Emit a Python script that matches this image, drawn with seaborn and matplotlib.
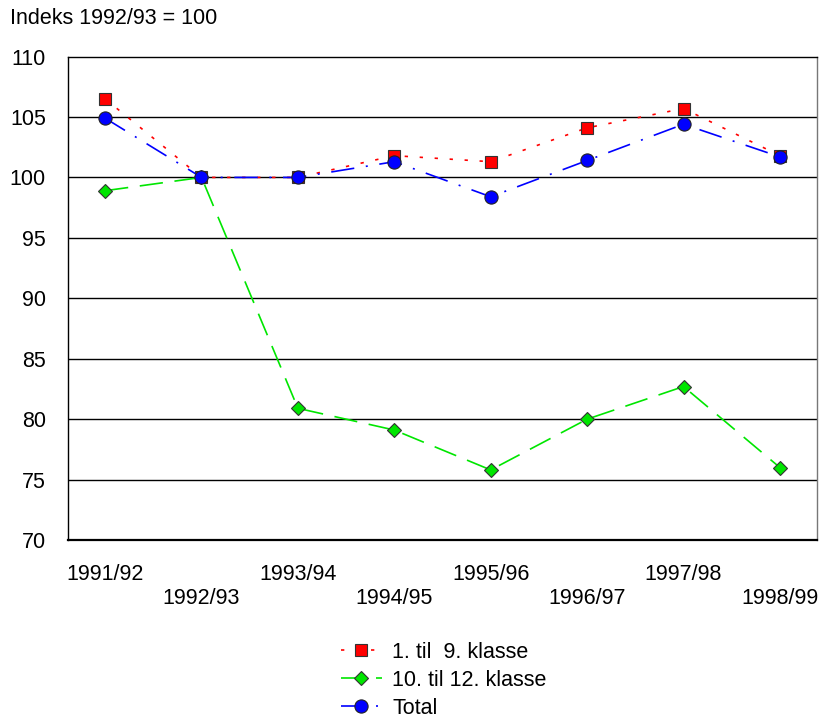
import numpy as np
import pandas as pd
import matplotlib
matplotlib.use("Agg")
import matplotlib.pyplot as plt
import seaborn as sns

# data
years = ["1991/92", "1992/93", "1993/94", "1994/95", "1995/96", "1996/97", "1997/98", "1998/99"]
klasse_1_9 = [106.5, 100.0, 100.0, 101.8, 101.3, 104.1, 105.7, 101.8]
klasse_10_12 = [98.9, 100.0, 80.9, 79.1, 75.8, 80.0, 82.7, 76.0]
total = [104.9, 100.0, 100.0, 101.3, 98.4, 101.4, 104.4, 101.7]

sns.set_theme(style="white")
plt.rcParams['font.family'] = ['Liberation Sans', 'DejaVu Sans']
plt.rcParams['text.color'] = 'black'
plt.rcParams['xtick.color'] = 'black'
plt.rcParams['ytick.color'] = 'black'

fs = 15.5

fig = plt.figure(figsize=(8.19, 7.22), dpi=100)
ax = fig.add_axes([0.083, 0.252, 0.9146, 0.6697])

x = np.arange(len(years))

sns.lineplot(x=x, y=klasse_1_9, ax=ax, color="#ff0000", lw=1.2,
             linestyle=(0, (2, 7)), marker="s", markersize=9,
             markerfacecolor="#ff0000", markeredgecolor="#333333", markeredgewidth=0.8,
             label="1. til  9. klasse")
sns.lineplot(x=x, y=klasse_10_12, ax=ax, color="#00e600", lw=1.2,
             linestyle=(0, (14, 7)), marker="D", markersize=7.5,
             markerfacecolor="#00e600", markeredgecolor="#333333", markeredgewidth=0.8,
             label="10. til 12. klasse")
sns.lineplot(x=x, y=total, ax=ax, color="#0000ff", lw=1.2,
             linestyle=(0, (14, 7, 1.2, 7)), marker="o", markersize=9.5,
             markerfacecolor="#0000ff", markeredgecolor="#222222", markeredgewidth=0.8,
             label="Total")

ax.set_xlim(-0.385, 7.385)
ax.set_ylim(70, 110)
ax.set_yticks(range(70, 111, 5))
ax.tick_params(axis="y", labelsize=fs, pad=16, length=0)
for yv in range(75, 110, 5):
    ax.axhline(yv, color="black", lw=1, zorder=0)

ax.set_xticks(x)
ax.set_xticklabels([y if i % 2 == 0 else "\n" + y for i, y in enumerate(years)], fontsize=fs)
ax.tick_params(axis="x", length=0, pad=17)

for s in ax.spines.values():
    s.set_visible(True)
    s.set_color("black")
    s.set_linewidth(1)
ax.spines["right"].set_color("#777777")
ax.spines["bottom"].set_linewidth(1.6)
ax.set_xlabel("")
ax.set_ylabel("")

handles, labels = ax.get_legend_handles_labels()
ax.get_legend().remove()
fig.legend(handles, labels, loc="upper left", bbox_to_anchor=(0.416, 0.111),
           frameon=False, fontsize=fs, handlelength=1.9, handletextpad=0.5,
           labelspacing=0.32, borderpad=0, borderaxespad=0)

fig.text(0.012, 0.974, "Indeks 1992/93 = 100", fontsize=fs, va="center", ha="left")

fig.savefig("out.png", dpi=100)
